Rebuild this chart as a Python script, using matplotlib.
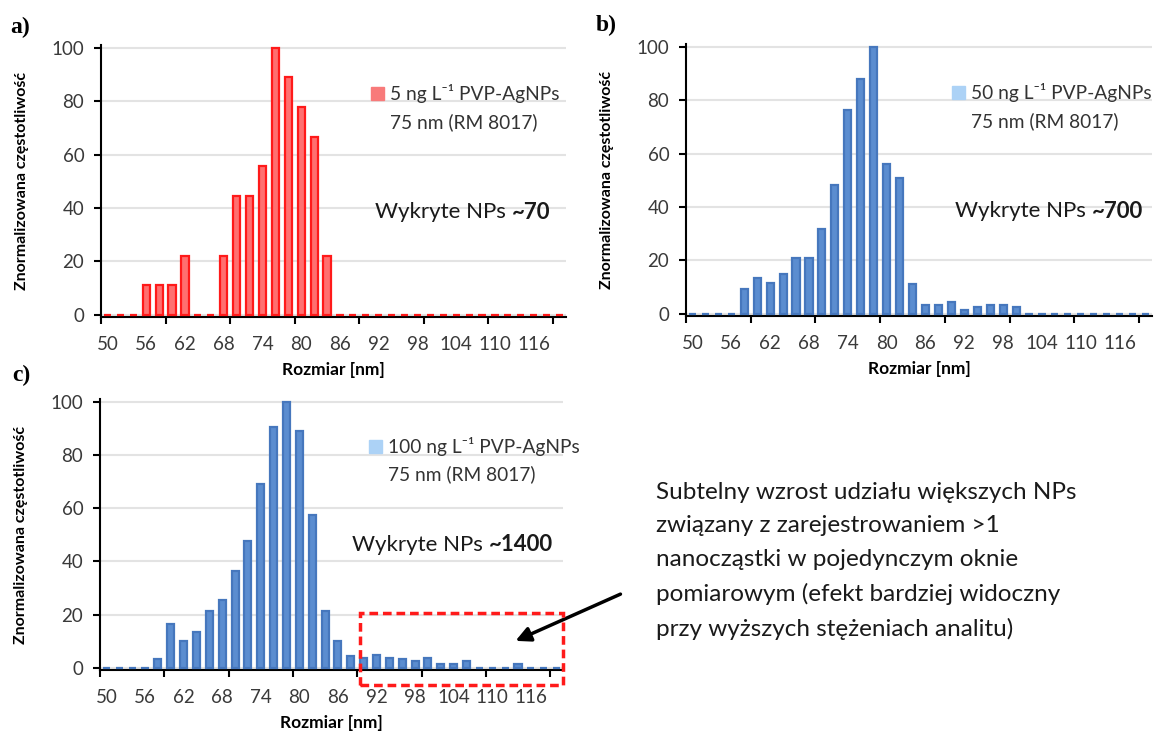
import matplotlib.pyplot as plt
from matplotlib.patches import Patch, Rectangle

plt.rcParams['font.family'] = ['Lato', 'DejaVu Sans']

# size bins (2 nm wide), every third one gets a label
sizes = [50, 52, 54, 56, 58, 60, 62, 64, 66, 68, 70, 72, 74, 76, 78, 80, 82, 84,
         86, 88, 90, 92, 94, 96, 98, 100, 102, 104, 106, 108, 110, 112, 114, 116, 118, 120]
size_labels = ['50', '56', '62', '68', '74', '80', '86', '92', '98', '104', '110', '116']

# normalized frequency (max bin = 100)
freq_5 = [0, 0, 0, 11.1, 11.1, 11.1, 22.2, 0, 0, 22.2, 44.4, 44.4, 55.6, 100, 88.9, 77.8, 66.7, 22.2,
          0, 0, 0, 0, 0, 0, 0, 0, 0, 0, 0, 0, 0, 0, 0, 0, 0, 0]
freq_50 = [0, 0, 0, 0, 9.4, 13.4, 11.4, 15.1, 21, 21, 31.6, 48.1, 76.3, 87.9, 100, 56, 51, 11.3,
           3.5, 3.5, 4.4, 1.6, 2.6, 3.5, 3.5, 2.6, 0, 0, 0, 0, 0, 0, 0, 0, 0, 0]
freq_100 = [0, 0, 0, 0, 3.5, 16.3, 10.1, 13.5, 21.5, 25.6, 36.5, 47.7, 68.9, 90.6, 100, 89, 57.4, 21.3,
            10.1, 4.4, 3.8, 4.8, 3.8, 3.3, 2.6, 3.8, 1.6, 1.6, 2.6, 0, 0, 0, 1.6, 0, 0, 0]

legend_lines = {
    '5': ['5 ng L\u207b\u00b9 PVP-AgNPs', '75 nm (RM 8017)'],
    '50': ['50 ng L\u207b\u00b9 PVP-AgNPs', '75 nm (RM 8017)'],
    '100': ['100 ng L\u207b\u00b9 PVP-AgNPs', '75 nm (RM 8017)'],
}
detected = {'5': '~70', '50': '~700', '100': '~1400'}

W, H = 1154, 733
fig = plt.figure(figsize=(W / 100, H / 100), dpi=100)


def px_axes(left, bottom, right, top):
    return fig.add_axes([left / W, 1 - bottom / H, (right - left) / W, (bottom - top) / H])


def histogram(ax, values, face, edge, key, patch_color, leg_xy, txt_xy):
    x = list(range(len(sizes)))
    # empty bins still show their outline as a small stub on the axis
    ax.bar(x, values, width=0.55, color=face, edgecolor=edge, linewidth=1.6, zorder=5)
    ax.set_xlim(-0.5, len(sizes) - 0.5)
    ax.set_ylim(-0.8, 101)
    ax.set_yticks([0, 20, 40, 60, 80, 100])
    ax.yaxis.grid(True, color='#e3e3e3', linewidth=1.5, zorder=0)
    ax.set_axisbelow(True)
    for s in ('top', 'right'):
        ax.spines[s].set_visible(False)
    for s in ('left', 'bottom'):
        ax.spines[s].set_linewidth(1.5)
        ax.spines[s].set_zorder(4)
    # tick marks every 5 bins, labels every 3 bins
    ax.set_xticks([-0.5 + 5 * k for k in range(8)])
    ax.set_xticklabels([])
    ax.set_xticks(x[::3], minor=True)
    ax.set_xticklabels(size_labels, minor=True)
    ax.tick_params(axis='x', which='major', direction='out', length=5, width=1.5)
    ax.tick_params(axis='x', which='minor', length=0, pad=13.5, labelsize=13.5, labelcolor='#3a3a3a')
    ax.tick_params(axis='y', direction='out', length=5, width=1.5, pad=7,
                   labelsize=13.5, labelcolor='#3a3a3a')
    ax.set_xlabel('Rozmiar [nm]', fontsize=12.5, fontweight='bold', labelpad=6.5)
    ax.set_ylabel('Znormalizowana częstotliwość', fontsize=11.5, fontweight='bold')
    ax.yaxis.set_label_coords(-0.155, 0.5)

    handles = [Patch(color=patch_color), Patch(alpha=0)]
    ax.legend(handles, legend_lines[key], loc='upper left', bbox_to_anchor=leg_xy,
              frameon=False, fontsize=13.8, handlelength=0.7, handleheight=0.7,
              handletextpad=0.3, labelspacing=0.5, borderpad=0, borderaxespad=0,
              labelcolor='#333333')
    t = ax.text(txt_xy[0], txt_xy[1], 'Wykryte NPs ', transform=ax.transAxes,
                fontsize=16, va='center', ha='left', color='#1a1a1a')
    ax.annotate(detected[key], xy=(1, 0.5), xycoords=t, va='center', ha='left',
                fontsize=16, fontweight='bold', color='#1a1a1a')


ax_a = px_axes(101, 317, 566, 45)
histogram(ax_a, freq_5, '#ff7070', '#ff1a1a', '5', '#f87a7a', (0.58, 0.855), (0.59, 0.386))

ax_b = px_axes(686, 316, 1152, 44)
histogram(ax_b, freq_50, '#5b8dd0', '#4677bd', '50', '#acd2f6', (0.57, 0.855), (0.577, 0.386))

ax_c = px_axes(100, 670, 563, 399)
histogram(ax_c, freq_100, '#5b8dd0', '#4677bd', '100', '#acd2f6', (0.58, 0.86), (0.544, 0.462))

# panel letters
for lbl, (px, py) in {'a)': (10, 27), 'b)': (596, 25), 'c)': (12, 375)}.items():
    fig.text(px / W, 1 - py / H, lbl, fontsize=17, fontweight='bold',
             family='Liberation Serif', va='center', ha='left')

# highlight of the large-size tail in panel c
fig.add_artist(Rectangle((360 / W, 1 - 685 / H), 203 / W, 72 / H, transform=fig.transFigure,
                         fill=False, edgecolor='#ff1a1a', linewidth=2.5, linestyle=(0, (2.5, 1.4))))
ax_c.annotate('', xy=(513 / W, 1 - 642 / H), xytext=(623 / W, 1 - 593 / H),
              xycoords='figure fraction', textcoords='figure fraction',
              arrowprops=dict(arrowstyle='-|>', color='black', lw=2.5, mutation_scale=22),
              annotation_clip=False)

fig.text(656 / W, 1 - 561 / H,
         'Subtelny wzrost udziału większych NPs\n'
         'związany z zarejestrowaniem >1\n'
         'nanocząstki w pojedynczym oknie\n'
         'pomiarowym (efekt bardziej widoczny\n'
         'przy wyższych stężeniach analitu)',
         fontsize=17.5, linespacing=1.72, va='center', ha='left', color='#1a1a1a')

fig.savefig('out.png', dpi=100)
